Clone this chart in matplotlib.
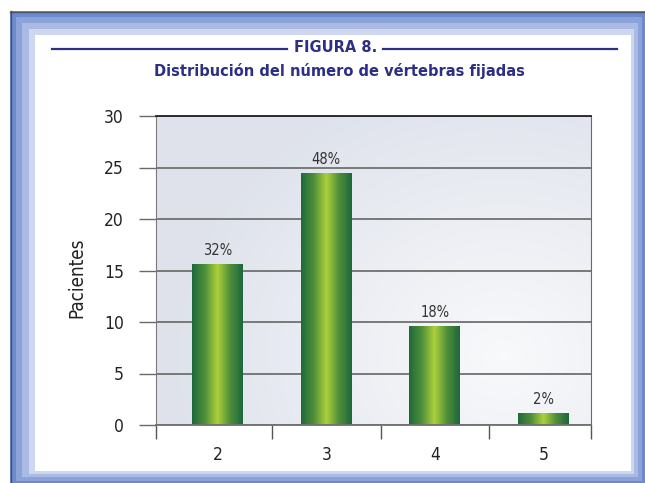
import numpy as np
import matplotlib
matplotlib.use("Agg")
import matplotlib.pyplot as plt
from matplotlib.patches import Rectangle
from matplotlib.colors import LinearSegmentedColormap
from matplotlib.font_manager import FontProperties

# data
categories = ["2", "3", "4", "5"]
pacientes = [15.6, 24.4, 9.6, 1.1]
porcentajes = ["32%", "48%", "18%", "2%"]
y_ticks = [0, 5, 10, 15, 20, 25, 30]

W, H = 645, 483
fig = plt.figure(figsize=(W / 100, H / 100), dpi=100)
fig.patch.set_facecolor("white")


def narrow(size):
    return FontProperties(family="DejaVu Sans", stretch="condensed", size=size)


def px_rect(x0, y0, x1, y1, color, z=0):
    # rectangle given in image pixels (origin top-left)
    fig.add_artist(Rectangle((x0 / W, 1 - y1 / H), (x1 - x0) / W, (y1 - y0) / H,
                             transform=fig.transFigure, facecolor=color,
                             edgecolor="none", zorder=z))


def px_line(x0, y0, x1, y1, color, lw):
    fig.add_artist(plt.Line2D([x0 / W, x1 / W], [1 - y0 / H, 1 - y1 / H],
                              transform=fig.transFigure, color=color, lw=lw))


# blue frame, banded
px_rect(10, 11, 645, 483, "#6b8bcf")
px_rect(16, 17, 642, 481, "#8ca3da")
px_rect(22, 23, 638, 477, "#abbae5")
px_rect(29, 29, 634, 474, "#cdd7f0")
px_rect(35, 35, 631, 471, "white")
px_line(10.5, 11, 10.5, 483, "#4d5060", 1.0)
px_line(10, 11.5, 645, 11.5, "#4d5060", 1.0)

# heading
navy = "#2b2f86"
px_line(52, 49, 287, 49, navy, 1.6)
px_line(383, 49, 617, 49, navy, 1.6)
fig.text(336 / W, 1 - 48 / H, "FIGURA 8.", ha="center", va="center",
         fontsize=10.5, fontweight="bold", color=navy)
fig.text(339 / W, 1 - 71 / H, "Distribución del número de vértebras fijadas",
         ha="center", va="center", fontsize=10.5, fontweight="bold", color=navy)

# axes
ax = fig.add_axes([156 / W, 1 - 425 / H, (591 - 156) / W, (425 - 116) / H])
x = np.arange(len(categories))
xmin, xmax = -0.57, 3.44

# soft background
gx, gy = np.meshgrid(np.linspace(0, 1, 200), np.linspace(0, 1, 200))
r = np.sqrt(((gx - 0.8) / 0.75) ** 2 + ((gy - 0.22) / 0.9) ** 2)
r = np.clip(r, 0, 1)
c_light = np.array([0.975, 0.978, 0.985])
c_dark = np.array([0.875, 0.890, 0.925])
bg = c_light[None, None, :] * (1 - r[..., None]) + c_dark[None, None, :] * r[..., None]
ax.imshow(bg, extent=[xmin, xmax, 0, 30], origin="lower", aspect="auto", zorder=0.1)

# bars with horizontal green gradient
green = LinearSegmentedColormap.from_list(
    "g", ["#1f6a3c", "#4f8f3a", "#acd03a", "#4f8f3a", "#1d683d"])
grad = np.linspace(0, 1, 100).reshape(1, -1)
bars = ax.bar(x, pacientes, width=0.47, color="none", zorder=2)
for b, lab in zip(bars, porcentajes):
    x0, w, h = b.get_x(), b.get_width(), b.get_height()
    ax.imshow(grad, cmap=green, extent=[x0, x0 + w, 0, h], aspect="auto", zorder=2)
    ax.text(x0 + w / 2, h + 0.6, lab, ha="center", va="bottom",
            fontproperties=narrow(10.5), color="#333333")

ax.set_xlim(xmin, xmax)
ax.set_ylim(0, 30)

ax.set_axisbelow(True)
ax.yaxis.grid(True, color="#707070", lw=1.3)
ax.set_yticks(y_ticks)
ax.tick_params(axis="y", length=12, width=1, color="#6a6a6a", pad=11,
               labelcolor="#222222")
ax.set_xticks(x, categories)
ax.tick_params(axis="x", which="major", length=0, pad=15, labelcolor="#222222")
ax.set_xticks([xmin, 0.5, 1.5, 2.5, xmax], minor=True)
ax.tick_params(axis="x", which="minor", length=10, width=1, color="#555555")
for t in ax.get_xticklabels() + ax.get_yticklabels():
    t.set_fontproperties(narrow(12.5))

ax.spines["top"].set_color("#222222")
ax.spines["top"].set_linewidth(1.3)
ax.spines["bottom"].set_color("#707070")
ax.spines["bottom"].set_linewidth(1.3)
ax.spines["left"].set_color("#7a7a7a")
ax.spines["right"].set_color("#6a6a6a")

# y axis title
fig.text(77 / W, 1 - 278 / H, "Pacientes", rotation=90, ha="center", va="center",
         fontproperties=narrow(13.5), color="#222222")

fig.savefig("out.png", dpi=100)
